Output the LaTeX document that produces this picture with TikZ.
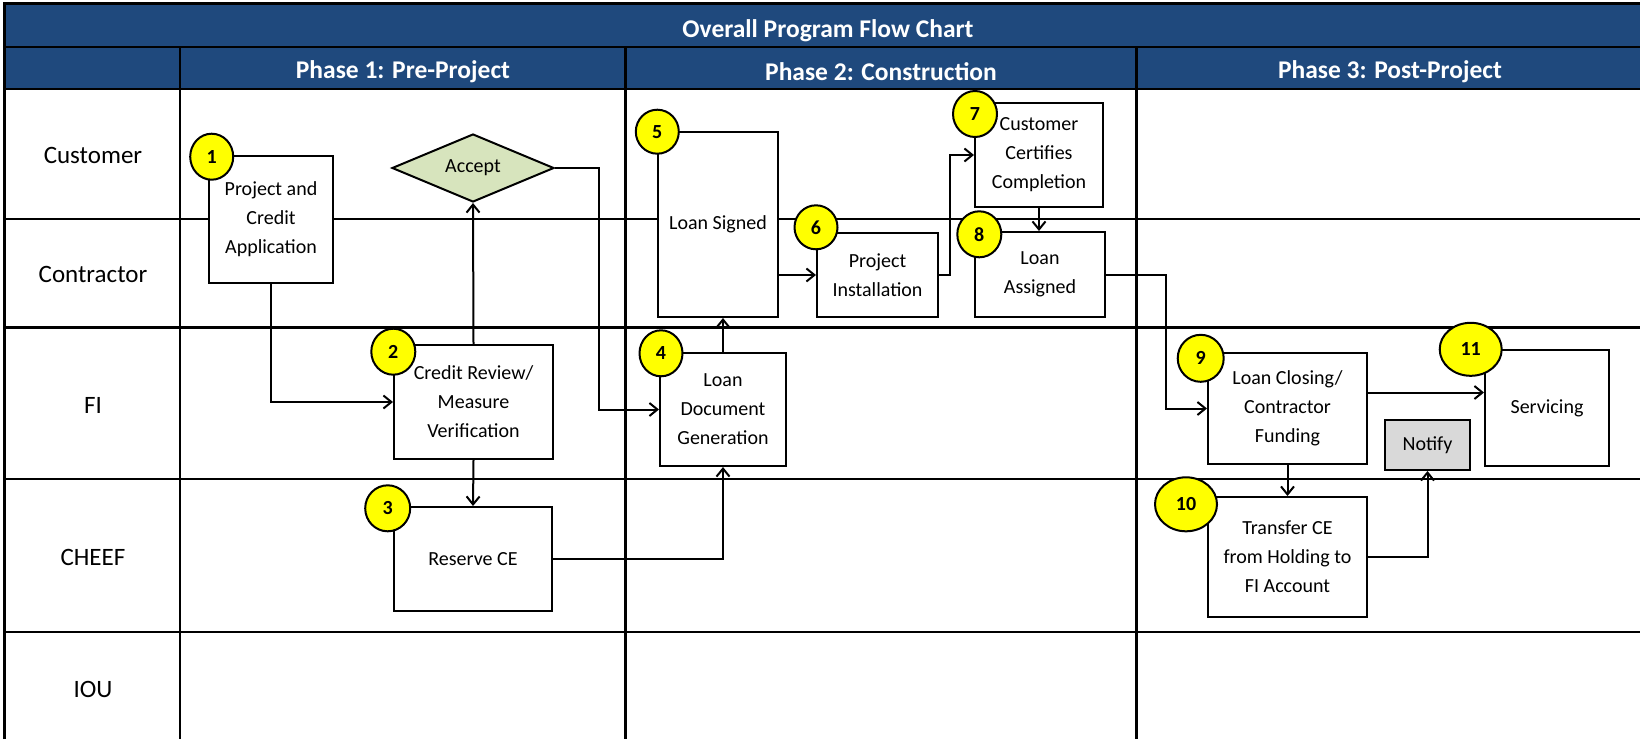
\documentclass[tikz,border=0pt]{standalone}
\usepackage{fontspec}
\setmainfont{Carlito}
\usetikzlibrary{shapes.geometric,arrows.meta}

\definecolor{headblue}{RGB}{31,73,125}
\definecolor{acceptgreen}{RGB}{215,228,189}
\definecolor{notifygray}{RGB}{217,217,217}
\definecolor{dotyellow}{RGB}{255,255,0}

\tikzset{
  stepbox/.style={draw, line width=2pt, fill=white, align=center, inner sep=2pt,
    font=\fontsize{20}{29}\selectfont},
  numdot/.style={ellipse, draw, line width=2pt, fill=dotyellow, inner sep=0pt,
    font=\bfseries\fontsize{20}{24}\selectfont},
  flow/.style={line width=2pt, -{Straight Barb[length=8pt,width=13pt]}},
  gridline/.style={line width=2.2pt},
  lanelabel/.style={font=\fontsize{25}{30}\selectfont},
  headtext/.style={text=white, font=\bfseries\fontsize{25.5}{30}\selectfont}
}

\begin{document}
\begin{tikzpicture}[x=1pt,y=-1pt]
  \clip (0,0) rectangle (1640,739);
  % header band
  \fill[headblue] (4,3) rectangle (1640,89);
  \draw[gridline] (4,47) -- (1640,47);
  \foreach \y in {89,218.6,327.4,479,632}
    \draw[gridline] (4,\y) -- (1640,\y);
  \foreach \x in {180,625.5,1136.5}
    \draw[gridline] (\x,47) -- (\x,739);
  \draw[line width=3pt] (4,739) -- (4,3) -- (1640,3);

  \node[headtext] (title) at (828,31) {Overall Program Flow Chart};
  \node[headtext] (ph1) at (403,72) {Phase 1: Pre-Project};
  \node[headtext] (ph2) at (881,72) {Phase 2: Construction};
  \node[headtext] (ph3) at (1390,72) {Phase 3: Post-Project};

  % lanes
  \node[lanelabel] (customer) at (93,155) {Customer};
  \node[lanelabel] (contractor) at (93,274) {Contractor};
  \node[lanelabel] (fi) at (93,405) {FI};
  \node[lanelabel] (cheef) at (93,557) {CHEEF};
  \node[lanelabel] (iou) at (93,689) {IOU};

  % steps
  \node[stepbox, minimum width=124pt, minimum height=127pt] (b1) at (271,219.5) {Project and\\Credit\\Application};
  \node[diamond, aspect=2.4, draw, line width=2pt, fill=acceptgreen, inner sep=0pt,
    minimum width=162pt, minimum height=68pt, font=\fontsize{20}{24}\selectfont] (acc) at (473,168) {Accept};
  \node[stepbox, minimum width=159pt, minimum height=114pt] (b2) at (473.5,402) {Credit Review/\\Measure\\Verification};
  \node[stepbox, minimum width=158pt, minimum height=104pt] (b3) at (473,559) {Reserve CE};
  \node[stepbox, minimum width=126pt, minimum height=113pt] (b4) at (723,409.5) {Loan\\Document\\Generation};
  \node[stepbox, minimum width=120pt, minimum height=185pt] (b5) at (718,224.5) {Loan Signed};
  \node[stepbox, minimum width=121pt, minimum height=84pt] (b6) at (877.5,275) {Project\\Installation};
  \node[stepbox, minimum width=128pt, minimum height=104pt] (b7) at (1039,155) {Customer\\Certifies\\Completion};
  \node[stepbox, minimum width=130pt, minimum height=85pt] (b8) at (1040,274.5) {Loan\\Assigned};
  \node[stepbox, minimum width=159pt, minimum height=111pt] (b9) at (1287.5,408.5) {Loan Closing/\\Contractor\\Funding};
  \node[stepbox, minimum width=159pt, minimum height=120pt] (b10) at (1287.5,557) {Transfer CE\\from Holding to\\FI Account};
  \node[stepbox, minimum width=124pt, minimum height=116pt] (b11) at (1547,408) {Servicing};
  \node[stepbox, fill=notifygray, minimum width=85pt, minimum height=50pt] (notify) at (1427.5,445) {Notify};

  % connectors
  \draw[flow] (b1.south) |- (b2.west);
  \draw[flow] (b2.north) -- (acc.south);
  \draw[flow] (acc.east) -- ++(44,0) |- (b4.west);
  \draw[flow] (b2.south) -- (b3.north);
  \draw[flow] (b3.east) -| (b4.south);
  \draw[flow] (b4.north) -- (b4.north |- b5.south);
  \draw[flow] (b5.east |- b6.west) -- (b6.west);
  \draw[flow] (b6.east) -- ++(10.5,0) |- (b7.west);
  \draw[flow] (b7.south) -- (b7.south |- b8.north);
  \draw[flow] (b8.east) -- ++(60,0) |- (b9.west);
  \draw[flow] ([yshift=16pt]b9.east) -- ([yshift=16pt]b9.east -| b11.west);
  \draw[flow] (b9.south) -- (b10.north);
  \draw[flow] (b10.east) -| (notify.south);

  % step numbers
  \node[numdot, minimum width=43pt, minimum height=46pt] (d1) at (211.7,156.7) {1};
  \node[numdot, minimum width=44pt, minimum height=46pt] (d2) at (393.3,351.7) {2};
  \node[numdot, minimum width=45pt, minimum height=46pt] (d3) at (387.7,508.3) {3};
  \node[numdot, minimum width=43pt, minimum height=46pt] (d4) at (661,353.3) {4};
  \node[numdot, minimum width=43pt, minimum height=44pt] (d5) at (657.3,131.7) {5};
  \node[numdot, minimum width=43pt, minimum height=44pt] (d6) at (816,227.3) {6};
  \node[numdot, minimum width=44pt, minimum height=46pt] (d7) at (975,114) {7};
  \node[numdot, minimum width=44pt, minimum height=46pt] (d8) at (979.3,234.3) {8};
  \node[numdot, minimum width=46pt, minimum height=47pt] (d9) at (1200.7,358.3) {9};
  \node[numdot, minimum width=62pt, minimum height=54pt] (d10) at (1186,504.3) {10};
  \node[numdot, minimum width=62pt, minimum height=53pt] (d11) at (1470.7,349.3) {11};
\end{tikzpicture}
\end{document}
